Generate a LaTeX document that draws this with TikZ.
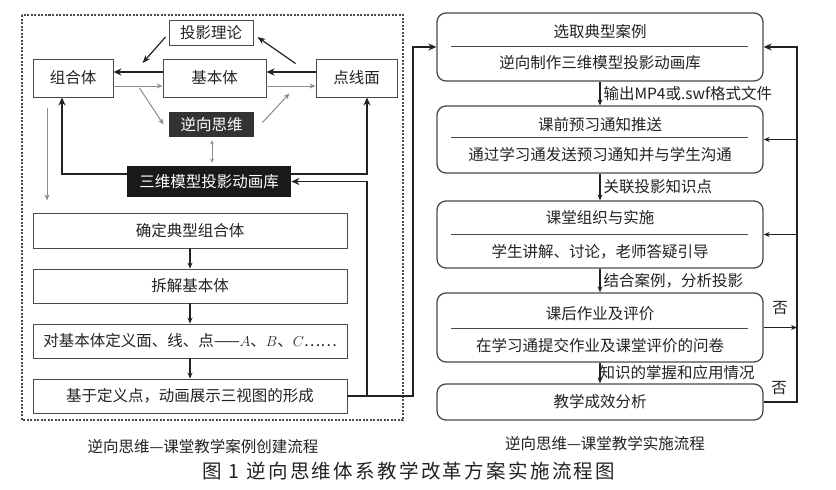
\documentclass[tikz,border=0pt]{standalone}
\usepackage{fontspec}
\setmainfont{Noto Sans CJK SC}
\newfontfamily\capfamily[LetterSpace=12]{Noto Sans CJK SC}
\usetikzlibrary{arrows.meta}
\definecolor{ink}{HTML}{222222}
\definecolor{edge}{HTML}{4A4A4A}
\definecolor{soft}{HTML}{8C8C8C}
\definecolor{deep}{HTML}{333333}
\newcommand\boxfont{\fontsize{15.5}{18}\selectfont}
\newcommand\capfont{\capfamily\fontsize{19.5}{22}\selectfont}
\tikzset{
    box/.style={rectangle,draw=edge,line width=0.9pt,inner sep=0pt,font=\boxfont,text=ink},
    darkbox/.style={box,draw=none,fill=deep,text=white},
    blackbox/.style={box,draw=none,fill=black!90,text=white},
    rbox/.style={rectangle,rounded corners=9pt,draw=edge,line width=1.3pt,inner sep=0pt,minimum width=326pt,font=\boxfont,text=ink},
    txt/.style={draw=none,font=\boxfont,text=ink,inner sep=1pt},
    lbl/.style={txt,right,xshift=2pt},
    frame/.style={draw=edge,line width=1.3pt,dash pattern=on 2pt off 1.5pt},
    divider/.style={draw=edge,line width=0.9pt},
    heavy/.style={draw=ink,line width=1.8pt,arrows={-Stealth[length=8pt,width=7pt]}},
    bus/.style={draw=ink,line width=1.6pt,arrows={-Stealth[length=8pt,width=7pt]}},
    flow/.style={draw=ink,line width=1.1pt,arrows={-Stealth[length=6pt,width=5pt]}},
    slant/.style={draw=ink,line width=1.2pt,arrows={-Stealth[length=8pt,width=6pt]}},
    faint/.style={draw=soft,line width=1pt,arrows={-Stealth[length=6pt,width=5pt]}},
    both/.style={draw=soft,line width=1pt,arrows={Stealth[length=4pt,width=4pt]-Stealth[length=4pt,width=4pt]}},
    }
\begin{document}
\begin{tikzpicture}[x=1pt,y=-1pt]
    \useasboundingbox (0,0) rectangle (836,490);
    \draw[frame] (22,15) rectangle (403,420);

    % left: case building
    \node[box,minimum width=84pt,minimum height=25pt] (ty) at (211,32.5) {投影理论};
    \node[box,minimum width=80pt,minimum height=38pt] (zh) at (73,78) {组合体};
    \node[box,minimum width=103pt,minimum height=38pt] (jb) at (214.5,78) {基本体};
    \node[box,minimum width=81pt,minimum height=38pt] (dx) at (356.5,78) {点线面};
    \node[darkbox,minimum width=85pt,minimum height=25pt] (nx) at (211.5,124.5) {逆向思维};
    \node[blackbox,minimum width=164pt,minimum height=31pt] (lib) at (209,181.5) {三维模型投影动画库};
    \node[box,minimum width=314pt,minimum height=35pt] (s1) at (190,230.5) {确定典型组合体};
    \node[box,minimum width=314pt,minimum height=34pt] (s2) at (190,286) {拆解基本体};
    \node[box,minimum width=314pt,minimum height=34pt] (s3) at (190,341) {对基本体定义面、线、点——$A$、$B$、$C$……};
    \node[box,minimum width=314pt,minimum height=34pt] (s4) at (190,396) {基于定义点，动画展示三视图的形成};

    \draw[heavy] ([shift={(0,-6)}]jb.west) -- ([shift={(0,-6)}]zh.east);
    \draw[heavy] ([shift={(0,-6)}]dx.west) -- ([shift={(0,-6)}]jb.east);
    \draw[faint] ([shift={(0,8)}]zh.east) -- ([shift={(0,8)}]jb.west);
    \draw[faint] ([shift={(0,8)}]jb.east) -- ([shift={(0,8)}]dx.west);
    \draw[slant] ([shift={(-3,4.5)}]ty.west) -- ++(-23,26);
    \draw[slant] ([shift={(-20,5)}]dx.north west) -- ([shift={(4,4.5)}]ty.east);
    \draw[faint] ([shift={(26,10)}]zh.east) -- ([shift={(-5,0)}]nx.west);
    \draw[faint] ([shift={(8,-2)}]nx.east) -- ([shift={(23,-4)}]jb.south east);
    \draw[faint] ([shift={(-26,11)}]zh.south) -- ++(0,92);
    \draw[both] ([shift={(0.5,3)}]nx.south) -- ([shift={(3,-3)}]lib.north);
    \draw[bus] ([shift={(0,-7.5)}]lib.west) -| ([shift={(-11,0)}]zh.south);
    \draw[bus] ([shift={(0,-7.5)}]lib.east) -| ([shift={(10.5,0)}]dx.south);

    \draw[flow] (s1) -- (s2);
    \draw[flow] (s2) -- (s3);
    \draw[flow] (s3) -- (s4);

    % right: teaching
    \node[rbox,minimum height=68pt] (r1) at (600,47) {};
    \node[rbox,minimum height=67pt] (r2) at (600,139.5) {};
    \node[rbox,minimum height=67pt] (r3) at (600,234.5) {};
    \node[rbox,minimum height=69pt] (r4) at (600,327.5) {};
    \node[rbox,minimum height=36pt] (r5) at (600,402) {教学成效分析};

    \node[txt] at ([shift={(0,-15)}]r1.center) {选取典型案例};
    \node[txt] at ([shift={(0,16)}]r1.center) {逆向制作三维模型投影动画库};
    \node[txt] at ([shift={(0,-14.5)}]r2.center) {课前预习通知推送};
    \node[txt] at ([shift={(0,15.5)}]r2.center) {通过学习通发送预习通知并与学生沟通};
    \node[txt] at ([shift={(0,-16.5)}]r3.center) {课堂组织与实施};
    \node[txt] at ([shift={(0,17.5)}]r3.center) {学生讲解、讨论，老师答疑引导};
    \node[txt] at ([shift={(0,-13.5)}]r4.center) {课后作业及评价};
    \node[txt] at ([shift={(0,18.5)}]r4.center) {在学习通提交作业及课堂评价的问卷};

    \draw[divider] ([shift={(-149,-1)}]r1.center) -- ([shift={(148,-1)}]r1.center);
    \draw[divider] ([shift={(-149,-2.5)}]r2.center) -- ([shift={(148,-2.5)}]r2.center);
    \draw[divider] ([shift={(-149,-0.5)}]r3.center) -- ([shift={(148,-0.5)}]r3.center);
    \draw[divider] ([shift={(-149,0.5)}]r4.center) -- ([shift={(148,0.5)}]r4.center);

    \draw[flow] (r1) -- node[lbl] {输出MP4或.swf格式文件} (r2);
    \draw[flow] (r2) -- node[lbl] {关联投影知识点} (r3);
    \draw[flow] (r3) -- node[lbl] {结合案例，分析投影} (r4);
    \draw[flow] (r4) -- node[lbl,xshift=-4pt] {知识的掌握和应用情况} (r5);

    \coordinate (fb) at (797,0);
    \draw[bus] (r5.east) -| (fb |- r1.east) -- (r1.east);
    \draw[flow] (fb |- r2.east) -- (r2.east);
    \draw[flow] (fb |- r3.east) -- (r3.east);
    \draw[flow] (r4.east) -- (fb |- r4.east);
    \node[txt] (no1) at (780,308) {否};
    \node[txt] (no2) at (779,388) {否};

    % link to the right
    \coordinate (lk) at (413,0);
    \coordinate (sk) at (367,0);
    \draw[bus] (s4.east) -| (lk |- r1.west) -- (r1.west);
    \draw[bus] (sk |- s4.east) |- (lib.east);

    % captions
    \node[txt] (capl) at (203,447) {逆向思维—课堂教学案例创建流程};
    \node[txt] (capr) at (605,444) {逆向思维—课堂教学实施流程};
    \node[txt,font=\capfont] (cap) at (409,471) {图 1 逆向思维体系教学改革方案实施流程图};
\end{tikzpicture}
\end{document}
